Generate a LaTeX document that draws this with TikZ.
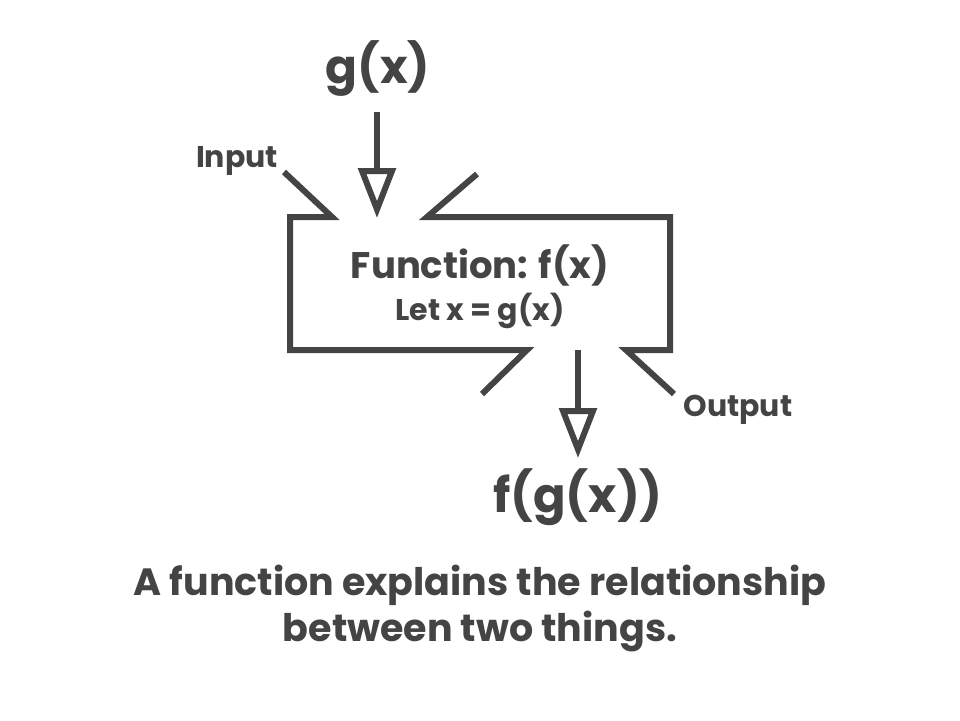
\documentclass[tikz,border=0pt]{standalone}
\usepackage{fontspec}
\setmainfont{Poppins}
\usetikzlibrary{arrows.meta}
\definecolor{fg}{HTML}{444444}
\tikzset{
  lbl/.style={text=fg, font=\bfseries\fontsize{#1}{#1}\selectfont, inner sep=0pt},
  wire/.style={draw=fg, line width=6pt, line join=miter},
  arr/.style={draw=fg, line width=6pt, -{Triangle[open,length=50pt,width=37pt]}}
}
\begin{document}
\begin{tikzpicture}[x=1pt,y=-1pt]
\useasboundingbox[fill=white] (0,0) rectangle (960,720);
% texts
\node[lbl=47] (gx) at (378,69) {g(x)};
\node[lbl=48] (fgx) at (578,497) {f(g(x))};
\node[lbl=37] (fn) at (480,265) {Function: f(x)};
\node[lbl=30] (let) at (480,311) {Let x = g(x)};
\node[lbl=30] (in) at (237,161) {Input};
\node[lbl=30] (out) at (738,410) {Output};
\node[text=fg, font=\bfseries\fontsize{38}{46}\selectfont, inner sep=0pt, align=center] (cap) at (480,608) {A function explains the relationship\\between two things.};
% coordinates
\coordinate (a1s) at (377,112);
\coordinate (a1e) at (377,218);
\coordinate (a2s) at (578,350);
\coordinate (a2e) at (578,458);
\coordinate (tl0) at (284,172);
\coordinate (tl1) at (332,217);
\coordinate (c1) at (290,217);
\coordinate (c2) at (290,350);
\coordinate (bl1) at (527,350);
\coordinate (bl0) at (482,394);
\coordinate (tr0) at (477,174);
\coordinate (tr1) at (427,217);
\coordinate (c3) at (670,217);
\coordinate (c4) at (670,350);
\coordinate (br1) at (626,350);
\coordinate (br0) at (674,394);
% box
\draw[wire] (tl0) -- (tl1) -- (c1) -- (c2) -- (bl1) -- (bl0);
\draw[wire] (tr0) -- (tr1) -- (c3) -- (c4) -- (br1) -- (br0);
% arrows
\draw[arr] (a1s) -- (a1e);
\draw[arr] (a2s) -- (a2e);
\end{tikzpicture}
\end{document}
